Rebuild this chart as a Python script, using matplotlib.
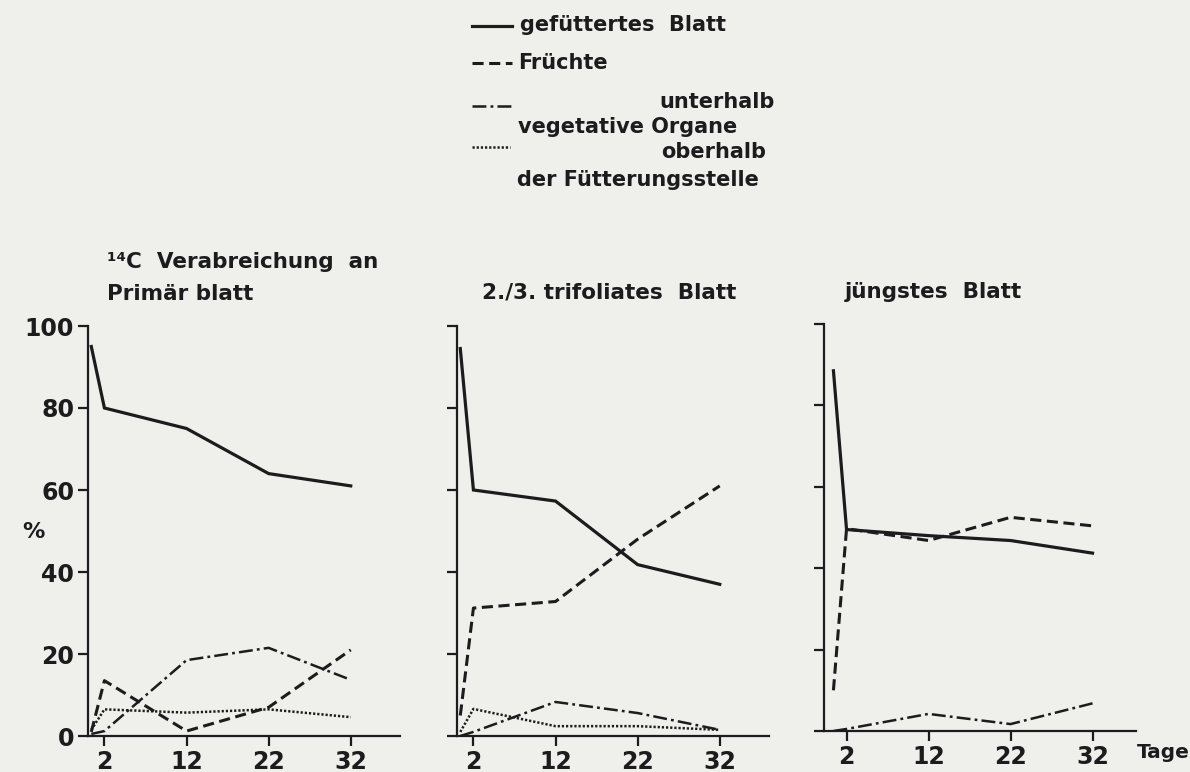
import matplotlib
matplotlib.use("Agg")
import matplotlib.pyplot as plt

# days after feeding (first point sits right at the axis)
days = [0.4, 2, 12, 22, 32]
xticks = [2, 12, 22, 32]
yticks = [0, 20, 40, 60, 80, 100]

# 14C Verabreichung an Primärblatt
blatt1 = [95, 80, 75, 64, 61]
fruechte1 = [1, 13.5, 1.2, 7, 21]
unter1 = [0.5, 1.2, 18.5, 21.5, 13.7]
ober1 = [1.5, 6.5, 5.7, 6.5, 4.6]

# 2./3. trifoliates Blatt
blatt2 = [94.5, 60, 57.3, 41.8, 37]
fruechte2 = [5, 31.2, 32.8, 48, 61]
unter2 = [0, 1, 8.3, 5.6, 1.5]
ober2 = [1, 6.6, 2.4, 2.4, 1.5]

# jüngstes Blatt
blatt3 = [88.5, 49.5, 48, 46.8, 43.7]
fruechte3 = [10, 49.7, 46.8, 52.5, 50.4]
unter3 = [0, 0.5, 4.2, 1.7, 6.8]

titles = ["\u00b9\u2074C  Verabreichung  an\nPrimär blatt",
          "2./3. trifoliates  Blatt",
          "jüngstes  Blatt"]

W, H = 1190, 772
INK = "#1c1c1c"
BG = "#efefec"

plt.rcParams['font.family'] = ['DejaVu Sans']
plt.rcParams['lines.scale_dashes'] = False

STYLES = {
    'blatt': dict(linestyle='-', lw=2.3),
    'fruechte': dict(linestyle=(0, (8, 4)), lw=2.2),
    'unter': dict(linestyle=(0, (10, 3, 2, 3)), lw=1.8),
    'ober': dict(linestyle=(0, (1.6, 1.4)), lw=1.8),
}

fig = plt.figure(figsize=(W / 100, H / 100), dpi=100, facecolor=BG)


def px_axes(x0, x1, ytop, ybot):
    return fig.add_axes([x0 / W, 1 - ybot / H, (x1 - x0) / W, (ybot - ytop) / H])


def ftext(x, y, s, **kw):
    kw.setdefault('color', INK)
    kw.setdefault('fontweight', 'bold')
    return fig.text(x / W, 1 - y / H, s, **kw)


panels = [
    (px_axes(88, 400, 326, 736), (0, 38),
     dict(blatt=blatt1, fruechte=fruechte1, unter=unter1, ober=ober1)),
    (px_axes(457, 769, 326, 736), (0, 38),
     dict(blatt=blatt2, fruechte=fruechte2, unter=unter2, ober=ober2)),
    (px_axes(824, 1136, 324, 731), (-0.75, 37.3),
     dict(blatt=blatt3, fruechte=fruechte3, unter=unter3)),
]

for i, (ax, xlim, series) in enumerate(panels):
    ax.set_facecolor('none')
    for key, vals in series.items():
        ax.plot(days, vals, color=INK, solid_joinstyle='miter', **STYLES[key])
    ax.set_xlim(*xlim)
    ax.set_ylim(0, 100)
    for s in ['top', 'right']:
        ax.spines[s].set_visible(False)
    for s in ['left', 'bottom']:
        ax.spines[s].set_color(INK)
        ax.spines[s].set_linewidth(1.6)
    ax.set_xticks(xticks)
    ax.set_yticks(yticks)
    ax.tick_params(direction='out', length=7, width=1.6, colors=INK,
                   labelsize=17, pad=3)
    for lab in ax.get_xticklabels() + ax.get_yticklabels():
        lab.set_fontweight('bold')
    if i > 0:
        ax.set_yticklabels([])

# panel headings
ftext(107, 262, titles[0].split("\n")[0], fontsize=15.5, va='center')
ftext(107, 294, titles[0].split("\n")[1], fontsize=15.5, va='center')
ftext(482, 292, titles[1], fontsize=15.5, va='center')
ftext(845, 292, titles[2], fontsize=15.5, va='center')

# axis labels
ftext(22, 532, "%", fontsize=16, va='center')
ftext(1137, 752, "Tage", fontsize=14.5, va='center')

# legend, drawn by hand like the original
leg = fig.add_axes([0, 0, 1, 1], facecolor='none')
leg.set_xlim(0, W)
leg.set_ylim(H, 0)
leg.axis('off')
leg.plot([472, 512], [26, 26], color=INK, **STYLES['blatt'])
leg.plot([472, 512], [63, 63], color=INK, **STYLES['fruechte'])
leg.plot([472, 513], [106, 106], color=INK, **STYLES['unter'])
leg.plot([472, 510], [147, 147], color=INK, **STYLES['ober'])

ftext(520, 25, "gefüttertes  Blatt", fontsize=15, va='center')
ftext(518, 63, "Früchte", fontsize=15, va='center')
ftext(775, 102, "unterhalb", fontsize=15, va='center', ha='right')
ftext(518, 127, "vegetative Organe", fontsize=15, va='center')
ftext(766, 152, "oberhalb", fontsize=15, va='center', ha='right')
ftext(517, 180, "der Fütterungsstelle", fontsize=15, va='center')

fig.savefig("out.png", dpi=100, facecolor=BG)
